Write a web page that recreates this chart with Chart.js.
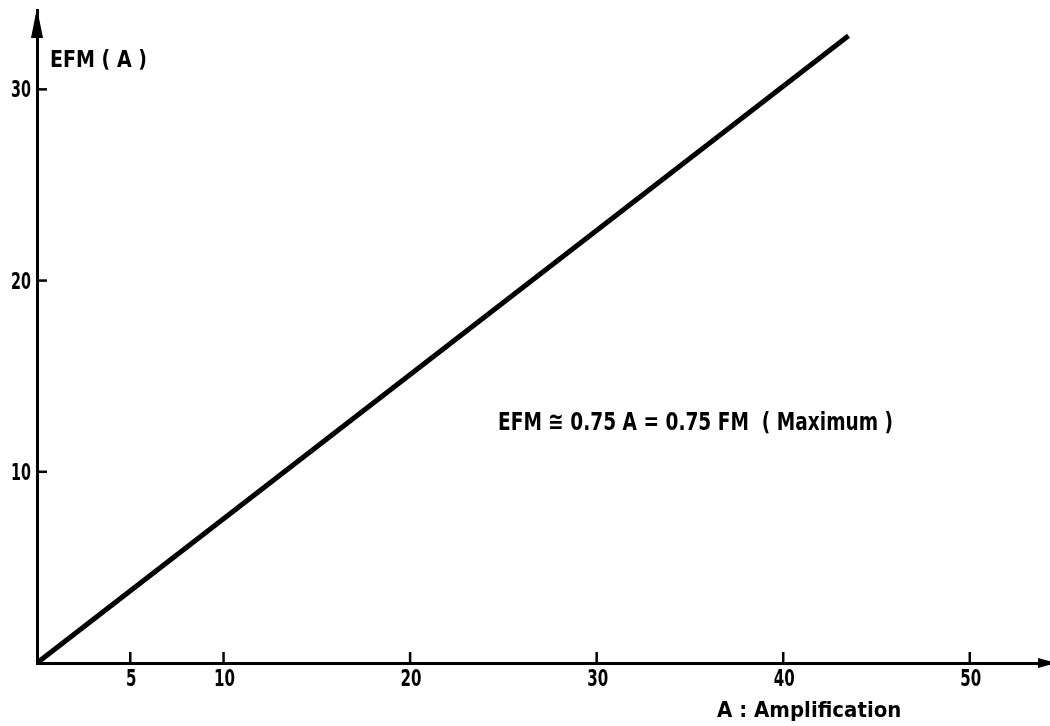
<!DOCTYPE html>
<html>
<head>
<meta charset="utf-8">
<script src="https://cdn.jsdelivr.net/npm/chart.js@4/dist/chart.umd.min.js"></script>
<style>
	html, body { margin: 0; padding: 0; background: #fff; }
	canvas { display: block; }
</style>
</head>
<body>
<canvas id="c" width="1050" height="726"></canvas>
<script>
const amplification = [0, 43.5];
const efm = [0, 32.8];
const xTicks = [5, 10, 20, 30, 40, 50];
const yTicks = [10, 20, 30];
const xTitle = 'A : Amplification';
const yTitle = 'EFM ( A )';
const note = 'EFM \u2245 0.75 A = 0.75 FM  ( Maximum )';

const FONT = '"DejaVu Sans Condensed", "DejaVu Sans", sans-serif';

// squeeze text to the narrow lettering of the original
function text(ctx, s, x, y, size, w, align) {
	ctx.font = `bold ${size}px ${FONT}`;
	ctx.textAlign = align || 'left';
	ctx.fillText(s, x, y, w);
}

// inward tick marks, tick labels, arrows and loose text
const decor = {
	id: 'decor',
	afterDraw(chart) {
		const ctx = chart.ctx, a = chart.chartArea;
		const x = chart.scales.x, y = chart.scales.y;
		ctx.save();
		ctx.strokeStyle = '#000';
		ctx.fillStyle = '#000';
		ctx.lineWidth = 2.5;
		ctx.textBaseline = 'alphabetic';
		xTicks.forEach(v => {
			const px = x.getPixelForValue(v);
			ctx.beginPath();
			ctx.moveTo(px, a.bottom);
			ctx.lineTo(px, a.bottom - 11);
			ctx.stroke();
			text(ctx, String(v), px + 1, a.bottom + 23, 23, String(v).length * 10.5, 'center');
		});
		yTicks.forEach(v => {
			const py = y.getPixelForValue(v);
			ctx.beginPath();
			ctx.moveTo(a.left, py);
			ctx.lineTo(a.left + 10, py);
			ctx.stroke();
			text(ctx, String(v), a.left - 6, py + 8, 23, String(v).length * 10, 'right');
		});

		// arrow heads
		ctx.beginPath();
		ctx.moveTo(a.left, a.top - 2);
		ctx.lineTo(a.left - 6, a.top + 28);
		ctx.lineTo(a.left + 6, a.top + 28);
		ctx.closePath();
		ctx.fill();
		ctx.beginPath();
		ctx.moveTo(a.right + 6, a.bottom);
		ctx.lineTo(a.right - 12, a.bottom - 5);
		ctx.lineTo(a.right - 12, a.bottom + 5);
		ctx.closePath();
		ctx.fill();

		text(ctx, yTitle, 50, 67, 23, 97);
		text(ctx, xTitle, 717, 717, 22, 188);
		text(ctx, note, 498, 430, 25, 395);
		ctx.restore();
	}
};

window.onload = function() {
	new Chart(document.getElementById('c').getContext('2d'), {
		type: 'scatter',
		data: {
			datasets: [{
				data: amplification.map((v, i) => ({ x: v, y: efm[i] })),
				showLine: true,
				borderColor: '#000',
				borderWidth: 5,
				pointRadius: 0,
			}],
		},
		options: {
			responsive: false,
			animation: false,
			layout: { padding: { top: 10, right: 0, left: 0, bottom: 0 } },
			plugins: { legend: { display: false }, tooltip: { enabled: false } },
			scales: {
				x: {
					type: 'linear',
					min: 0,
					max: 54.3,
					afterBuildTicks: s => { s.ticks = xTicks.map(v => ({ value: v })); },
					afterFit: s => { s.height = 63; },
					grid: { display: false, drawTicks: false },
					border: { display: true, color: '#000', width: 3 },
					ticks: { display: false },
				},
				y: {
					type: 'linear',
					min: 0,
					max: 34.15,
					afterBuildTicks: s => { s.ticks = yTicks.map(v => ({ value: v })); },
					afterFit: s => { s.width = 37; },
					grid: { display: false, drawTicks: false },
					border: { display: true, color: '#000', width: 3 },
					ticks: { display: false },
				},
			},
		},
		plugins: [decor],
	});
};
</script>
</body>
</html>
